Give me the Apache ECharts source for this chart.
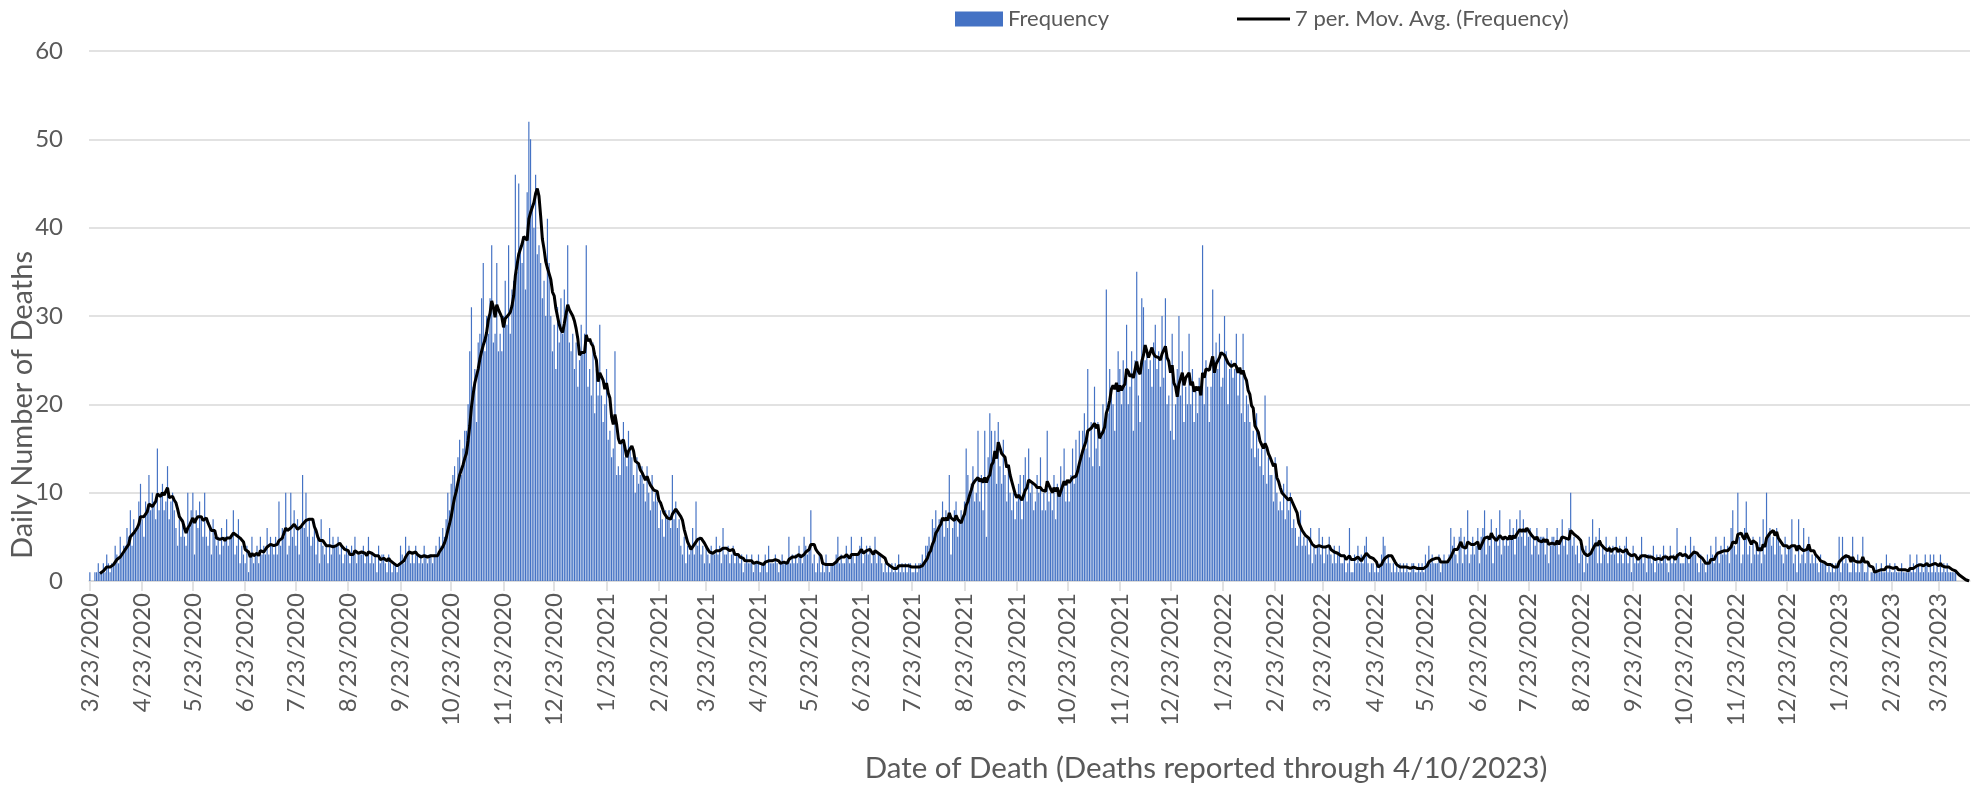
<!DOCTYPE html>
<html>
<head>
<meta charset="utf-8">
<title>Daily Number of Deaths</title>
<script src="https://cdn.jsdelivr.net/npm/echarts@6/dist/echarts.min.js"></script>
<style>
  html, body { margin: 0; padding: 0; background: #fff; }
  #chart { width: 1980px; height: 788px; }
</style>
</head>
<body>
<div id="chart"></div>
<script>
// daily deaths, one value per day starting 3/23/2020
// 3/23/2020 - 12/27/2020
const dailyPart1 = [
  1,0,0,1,1,2,1, 1,2,1,3,2,1,2, 2,4,3,2,5,3,4, 4,6,5,8,4,7,6, 6,9,11,7,5,9,8,
  12,8,10,9,7,15,8, 10,11,8,9,13,7,9, 10,8,6,4,7,5,7, 5,4,10,6,8,10,3, 8,6,9,7,5,10,5,
  4,6,3,7,5,4,5, 3,6,4,5,7,4,5, 5,8,3,4,7,2,4, 3,2,4,1,3,5,2, 3,4,2,5,3,4,3,
  6,3,5,4,3,5,3, 9,4,6,5,10,3,4, 10,5,8,4,7,3,6, 12,6,10,5,7,4,5, 6,3,5,2,7,4,3,
  4,2,6,3,5,4,4, 5,3,4,2,3,4,3, 2,4,3,5,2,3,3, 3,4,2,3,5,2,3, 2,3,1,4,2,3,3,
  2,1,3,2,1,2,2, 1,2,4,3,2,5,3, 4,2,3,2,4,3,2, 3,2,4,3,2,3,3, 2,3,4,3,5,4,6,
  5,7,10,8,11,12,13, 10,14,16,12,15,17,17, 20,26,31,22,24,18,27, 28,32,36,26,30,28,32, 38,27,28,36,26,28,26,
  30,34,29,38,28,33,34, 46,35,45,38,36,39,33, 44,52,50,42,40,46,37, 38,36,32,34,30,41,36, 30,26,29,24,31,27,32
];
// 12/28/2020 - 10/2/2021
const dailyPart2 = [
  28,33,30,38,27,26,28, 24,27,22,25,29,26,28, 38,22,24,21,27,19,24, 21,29,21,18,20,24,16, 17,14,15,26,12,13,12,
  16,18,14,13,17,15,14, 12,10,14,11,12,13,11, 9,13,10,8,12,9,10, 9,6,8,7,5,8,7, 8,6,12,7,9,6,7,
  4,3,5,2,4,3,4, 6,3,9,4,5,3,4, 2,4,3,2,4,3,3, 5,3,4,2,6,3,3, 4,2,3,4,2,3,3,
  2,3,1,2,3,2,2, 3,1,2,2,3,1,2, 2,3,1,4,2,2,2, 3,2,1,2,3,2,2, 2,5,2,3,2,3,2,
  4,3,2,5,4,3,4, 8,2,3,1,2,3,1, 2,1,3,2,1,2,2, 2,3,5,2,3,2,2, 4,3,2,5,3,2,3,
  3,4,5,2,3,4,3, 4,2,3,5,2,3,3, 2,1,2,1,2,1,2, 1,2,1,3,1,2,1, 2,1,2,2,1,1,2,
  1,2,2,3,2,4,4, 5,4,7,6,8,6,7, 7,9,5,8,6,12,3, 6,8,9,5,7,8,7, 9,15,12,10,11,13,9,
  10,17,9,12,8,17,5, 14,19,17,14,17,11,18, 13,11,16,12,9,13,10, 8,10,7,9,11,12,7, 12,14,9,15,10,11,8
];
// 10/3/2021 - 7/9/2022
const dailyPart3 = [
  9,12,10,14,8,10,8, 17,9,10,8,12,7,11, 10,13,11,15,9,11,9, 12,15,11,16,13,17,14, 17,19,15,24,14,18,13,
  22,15,18,13,17,20,17, 33,19,24,22,20,17,22, 26,24,20,25,22,29,20, 22,26,17,25,35,21,18, 32,31,25,26,24,25,22,
  27,29,24,26,22,30,23, 32,20,21,17,28,16,20, 24,30,21,26,18,22,20, 28,20,24,18,22,19,23, 21,38,20,25,22,18,22,
  33,25,27,24,28,22,23, 30,26,20,24,25,23,24, 28,21,24,19,28,18,21, 20,18,15,17,14,19,15, 13,15,12,21,11,14,12,
  12,9,14,10,8,9,8, 11,7,13,8,10,6,7, 6,4,5,8,4,5,4, 5,3,6,2,4,3,4, 6,3,5,2,4,3,5,
  3,2,4,2,3,4,2, 2,3,1,2,6,1,1, 3,2,4,2,3,2,4, 5,2,1,2,2,1,2, 1,2,3,5,4,2,3,
  2,1,2,1,2,1,2, 1,2,1,2,1,1,2, 2,1,1,2,1,2,1, 3,2,4,2,3,2,2, 2,3,1,2,3,2,2,
  3,6,4,5,3,2,5, 6,2,5,3,8,2,3, 5,3,4,6,2,5,6, 8,3,5,4,7,2,5, 6,4,8,3,5,4,5
];
// 7/10/2022 - 4/10/2023
const dailyPart4 = [
  4,7,5,6,3,7,5, 8,5,7,4,6,5,6, 3,5,4,6,3,5,5, 5,3,6,2,4,5,5, 4,6,3,5,7,4,5,
  3,6,10,4,5,3,4, 2,4,3,1,4,2,5, 3,7,4,5,2,6,2, 4,3,5,2,4,3,4, 3,5,2,4,3,2,4,
  5,2,3,1,4,2,3, 2,3,5,2,3,1,3, 3,2,4,1,3,2,3, 2,4,3,2,1,4,2, 3,2,6,3,2,2,2,
  4,3,2,5,3,4,3, 2,1,3,2,2,1,3, 2,4,3,2,5,3,2, 4,3,5,3,4,2,6, 8,4,3,10,5,2,3,
  6,9,3,4,2,5,3, 4,3,5,2,7,3,10, 5,6,4,5,3,6,5, 4,3,2,5,3,4,4, 7,2,3,1,7,2,3,
  6,2,4,5,2,3,2, 3,2,1,3,2,2,2, 1,2,1,2,1,2,2, 5,1,5,2,3,2,1, 1,5,2,1,3,1,2,
  5,1,1,2,0,1,1, 1,2,1,1,2,1,1, 3,1,2,1,1,2,1, 1,1,2,1,1,1,1, 3,1,2,1,3,2,1,
  2,1,3,2,1,3,1, 3,1,2,1,3,1,2, 1,2,1,1,1,1,1, 0,0,0,0,0,0,0, 0
];

const startDate = Date.UTC(2020, 2, 23);
const yTicks = [0, 10, 20, 30, 40, 50, 60];
const barName = 'Frequency';
const lineName = '7 per. Mov. Avg. (Frequency)';
const xTitle = 'Date of Death (Deaths reported through 4/10/2023)';
const yTitle = 'Daily Number of Deaths';

const frequency = dailyPart1.concat(dailyPart2, dailyPart3, dailyPart4);

const dates = frequency.map((_, i) => {
  const d = new Date(startDate + i * 86400000);
  return (d.getUTCMonth() + 1) + '/' + d.getUTCDate() + '/' + d.getUTCFullYear();
});

// 7 period trailing moving average, like the Excel trendline
const movAvg = frequency.map((_, i) => {
  if (i < 6) return null;
  let s = 0;
  for (let k = i - 6; k <= i; k++) s += frequency[k];
  return +(s / 7).toFixed(3);
});

const FONT = 'Lato, "Open Sans", sans-serif';
const TEXT = '#595959';
const GRID = '#d9d9d9';

const chart = echarts.init(document.getElementById('chart'));
const monthTick = (idx, val) => val.split('/')[1] === '23';

chart.setOption({
  animation: false,
  textStyle: { fontFamily: FONT },
  grid: { left: 89, right: 10, top: 51, bottom: 207, containLabel: false, outerBoundsMode: 'none' },
  legend: [
    {
      data: [barName], left: 950, top: 3, icon: 'rect',
      itemWidth: 48, itemHeight: 15,
      textStyle: { color: TEXT, fontSize: 22, fontFamily: FONT },
    },
    {
      data: [lineName], left: 1232, top: 3, icon: 'rect',
      itemWidth: 53, itemHeight: 3,
      textStyle: { color: TEXT, fontSize: 22, fontFamily: FONT },
    },
  ],
  xAxis: {
    type: 'category',
    data: dates,
    boundaryGap: true,
    axisLine: { lineStyle: { color: GRID, width: 1.5 } },
    axisTick: { show: true, alignWithLabel: true, interval: monthTick, length: 10, lineStyle: { color: GRID, width: 1.5 } },
    axisLabel: {
      interval: monthTick, rotate: 90, margin: 12,
      color: TEXT, fontSize: 24, fontFamily: FONT,
    },
    splitLine: { show: false },
  },
  yAxis: {
    type: 'value',
    min: yTicks[0], max: yTicks[yTicks.length - 1], interval: 10,
    axisLine: { show: false },
    axisTick: { show: false },
    axisLabel: { color: TEXT, fontSize: 24, fontFamily: FONT, margin: 26 },
    splitLine: { lineStyle: { color: GRID, width: 1.5 } },
  },
  graphic: [
    {
      type: 'text', x: 23, y: 405, rotation: Math.PI / 2,
      style: { text: yTitle, fill: TEXT, fontSize: 29, fontFamily: FONT, textAlign: 'center', textVerticalAlign: 'middle' },
    },
    {
      type: 'text', x: 1206, y: 768,
      style: { text: xTitle, fill: TEXT, fontSize: 29.5, fontFamily: FONT, textAlign: 'center', textVerticalAlign: 'middle' },
    },
  ],
  series: [
    {
      name: barName,
      type: 'bar',
      data: frequency,
      barCategoryGap: '30%',
      itemStyle: { color: '#4472C4' },
      emphasis: { disabled: true },
    },
    {
      name: lineName,
      type: 'line',
      data: movAvg,
      showSymbol: false,
      symbol: 'none',
      connectNulls: false,
      lineStyle: { color: '#000', width: 3 },
      itemStyle: { color: '#000' },
      z: 5,
    },
  ],
});
</script>
</body>
</html>
